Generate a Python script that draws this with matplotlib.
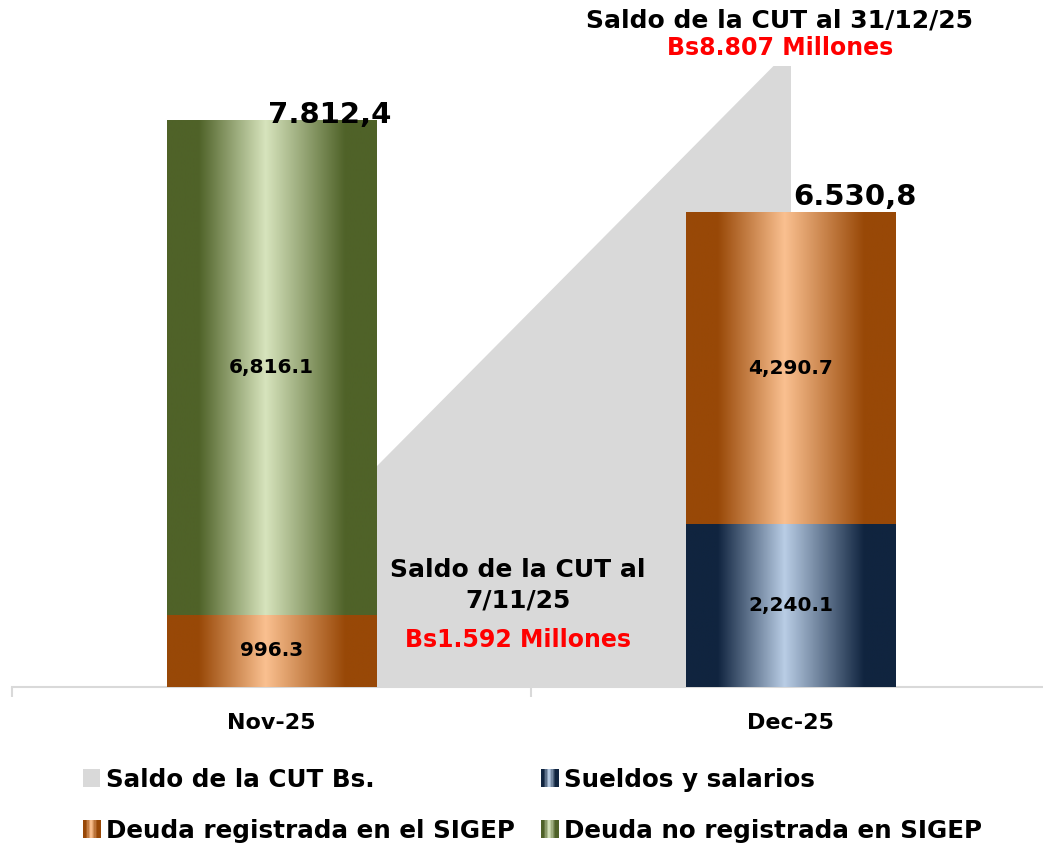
import numpy as np
import matplotlib
matplotlib.use("Agg")
import matplotlib.pyplot as plt
from matplotlib.colors import LinearSegmentedColormap
from matplotlib.legend_handler import HandlerBase
from matplotlib.patches import Rectangle, Patch

# _____________________________________
# Data

months = ["Nov-25", "Dec-25"]
sueldos = [0.0, 2240.1]
deuda_reg = [996.3, 4290.7]
deuda_no_reg = [6816.1, 0.0]
saldo_cut = [1592, 8807]

legend_labels = ["Saldo de la CUT Bs.", "Deuda registrada en el SIGEP",
                 "Sueldos y salarios", "Deuda no registrada en SIGEP"]

# _____________________________________
# Styles

W, H = 1043, 848
grey = "#d9d9d9"


def metal(dark, light):
    return LinearSegmentedColormap.from_list(
        "m", [(0, dark), (0.15, dark), (0.47, light), (0.85, dark), (1, dark)])


cm_navy = metal("#10243f", "#b9cde5")
cm_orange = metal("#984807", "#fac090")
cm_green = metal("#4f6228", "#d7e4bd")

plt.rcParams["font.family"] = "DejaVu Sans"
plt.rcParams["font.weight"] = "bold"


def px(x, y):
    # pixel position (from top left) to figure fraction
    return x / W, 1 - y / H


fig = plt.figure(figsize=(W / 100, H / 100), dpi=100)
ax = fig.add_axes([12 / W, (H - 687) / H, 1038 / W, 687 / H])

x = np.arange(len(months))
width = 0.403

# grey area (behind bars)
ax.fill_between(x, saldo_cut, color=grey, lw=0, zorder=1)

# stacked gradient bars
grad = np.linspace(0, 1, 256).reshape(1, -1)
bottom = np.zeros(len(months))
for series, cmap in [(sueldos, cm_navy), (deuda_reg, cm_orange), (deuda_no_reg, cm_green)]:
    for i, v in enumerate(series):
        if v <= 0:
            continue
        ax.imshow(grad, cmap=cmap, aspect="auto", interpolation="bilinear",
                  extent=(x[i] - width / 2, x[i] + width / 2, bottom[i], bottom[i] + v), zorder=3)
        ax.text(x[i], bottom[i] + v / 2, f"{v:,.1f}", ha="center", va="center",
                fontsize=14.5, fontweight="bold", zorder=5)
    bottom += np.array(series)

# totals, european format
offsets = [(-3, 5), (3, 16)]
for i, t in enumerate(bottom):
    s = f"{t:,.1f}".replace(",", "X").replace(".", ",").replace("X", ".")
    ax.annotate(s, xy=(x[i], t), xytext=offsets[i], textcoords="offset pixels",
                ha="left", va="center", fontsize=21, fontweight="bold", zorder=6)

ax.set_xlim(-0.5, 1.5)
ax.set_ylim(0, 9466)
ax.set_yticks([])
for s in ["left", "top", "right"]:
    ax.spines[s].set_visible(False)
ax.spines["bottom"].set_color(grey)
ax.spines["bottom"].set_linewidth(1.5)
ax.set_xticks(x)
ax.set_xticklabels(months, fontsize=16, fontweight="bold")
ax.set_xticks([-0.5, 0.5, 1.5], minor=True)
ax.tick_params(axis="x", which="major", length=0, pad=19)
ax.tick_params(axis="x", which="minor", length=7, width=1.5, color=grey)
ax.patch.set_alpha(0)

# annotations
fig.text(*px(780, 21), "Saldo de la CUT al 31/12/25", ha="center", va="center",
         fontsize=18, fontweight="bold",
         bbox=dict(facecolor="white", edgecolor="none", pad=2))
fig.text(*px(780, 48), "Bs8.807 Millones", ha="center", va="center",
         fontsize=17, fontweight="bold", color="#ff0000",
         bbox=dict(facecolor="white", edgecolor="none", pad=4))
fig.text(*px(518, 585), "Saldo de la CUT al\n7/11/25", ha="center", va="center",
         fontsize=18, fontweight="bold", linespacing=1.36)
fig.text(*px(518, 640), "Bs1.592 Millones", ha="center", va="center",
         fontsize=17, fontweight="bold", color="#ff0000")


# legend with gradient markers
class GradHandler(HandlerBase):
    def __init__(self, cmap):
        super().__init__()
        self.cmap = cmap

    def create_artists(self, legend, orig_handle, xdescent, ydescent, width, height, fontsize, trans):
        n = 12
        arts = []
        for k in range(n):
            arts.append(Rectangle((-xdescent + k * width / n, -ydescent), width / n + 0.3, height,
                                  facecolor=self.cmap((k + 0.5) / n), edgecolor="none", transform=trans))
        return arts


h_saldo = Patch(facecolor=grey, edgecolor="none")
h_reg = Patch(facecolor="#984807")
h_sue = Patch(facecolor="#10243f")
h_noreg = Patch(facecolor="#4f6228")
fig.legend([h_saldo, h_reg, h_sue, h_noreg], legend_labels, ncol=2,
           loc="upper left", bbox_to_anchor=px(83, 768), frameon=False,
           prop=dict(size=17.7, weight="bold"), handlelength=0.7, handleheight=0.75,
           handletextpad=0.25, columnspacing=1.05, labelspacing=1.1, borderpad=0,
           borderaxespad=0,
           handler_map={h_reg: GradHandler(cm_orange), h_sue: GradHandler(cm_navy),
                        h_noreg: GradHandler(cm_green)})

fig.savefig("out.png", dpi=100)
